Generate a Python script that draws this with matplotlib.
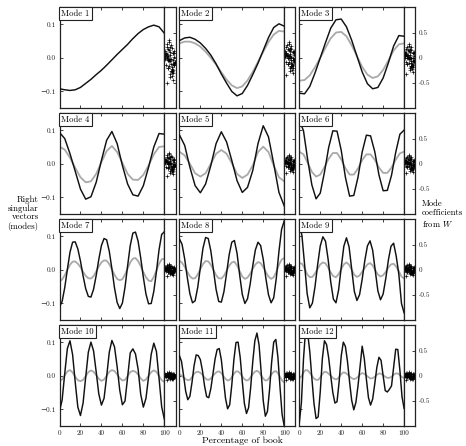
import numpy as np
import matplotlib
matplotlib.use('Agg')
import matplotlib.pyplot as plt

# Fonts close to the LaTeX look of the original
plt.rcParams['font.family'] = ['cmr10', 'DejaVu Serif']
plt.rcParams['mathtext.fontset'] = 'cm'
plt.rcParams['axes.unicode_minus'] = False
plt.rcParams['axes.formatter.use_mathtext'] = True

# ---------------------------------------------------------------- data
# Right singular vectors (black) and their smoothed counterparts (gray),
# sampled along the book (0-100 %). One list per mode.
black_1 = [-0.092, -0.095, -0.097, -0.095, -0.088, -0.076, -0.064, -0.050, -0.037, -0.022, -0.006,
           0.010, 0.025, 0.040, 0.057, 0.072, 0.084, 0.092, 0.097, 0.092, 0.073]
black_2 = [0.051, 0.059, 0.061, 0.055, 0.044, 0.028, 0.008, -0.018, -0.048, -0.075, -0.100,
           -0.113, -0.106, -0.082, -0.050, -0.016, 0.022, 0.060, 0.090, 0.101, 0.094]
gray_2 = [0.043, 0.048, 0.048, 0.043, 0.033, 0.018, 0.000, -0.020, -0.043, -0.065, -0.082,
          -0.090, -0.085, -0.067, -0.042, -0.012, 0.018, 0.047, 0.069, 0.080, 0.078]
black_3 = [-0.105, -0.107, -0.085, -0.045, 0.000, 0.045, 0.088, 0.113, 0.115, 0.092, 0.052,
           0.005, -0.042, -0.077, -0.092, -0.088, -0.060, -0.015, 0.035, 0.066, 0.064]
gray_3 = [-0.068, -0.066, -0.052, -0.028, 0.000, 0.030, 0.058, 0.075, 0.077, 0.064, 0.037,
          0.005, -0.027, -0.050, -0.060, -0.055, -0.036, -0.008, 0.022, 0.040, 0.043]
black_4 = [0.093, 0.075, 0.030, -0.022, -0.075, -0.105, -0.098, -0.055, 0.010, 0.070, 0.096,
           0.060, -0.005, -0.060, -0.092, -0.096, -0.065, -0.010, 0.050, 0.090, 0.088]
gray_4 = [0.051, 0.042, 0.018, -0.012, -0.040, -0.055, -0.052, -0.030, 0.005, 0.038, 0.053,
          0.035, 0.003, -0.030, -0.047, -0.048, -0.033, -0.005, 0.028, 0.050, 0.052]
black_5 = [0.086, 0.055, -0.010, -0.065, -0.086, -0.060, -0.005, 0.060, 0.095, 0.065, 0.010,
           -0.050, -0.085, -0.070, -0.020, 0.060, 0.113, 0.080, 0.000, -0.085, -0.125]
gray_5 = [0.036, 0.025, 0.000, -0.028, -0.038, -0.028, 0.000, 0.030, 0.041, 0.030, 0.002,
          -0.030, -0.042, -0.032, -0.005, 0.035, 0.051, 0.035, -0.005, -0.040, -0.052]
black_6 = [0.130, 0.098, 0.012, -0.063, -0.104, -0.087, -0.025, 0.048, 0.098, 0.097, 0.040, -0.040, -0.096,
           -0.094, -0.040, 0.035, 0.085, 0.083, 0.036, -0.033, -0.080, -0.079, -0.034, 0.034, 0.088, 0.100]
gray_6 = [0.036, 0.028, 0.003, -0.024, -0.038, -0.032, -0.010, 0.015, 0.032, 0.032, 0.013, -0.013, -0.032,
          -0.032, -0.014, 0.011, 0.028, 0.028, 0.012, -0.011, -0.027, -0.027, -0.011, 0.012, 0.031, 0.036]
black_7 = [-0.110, -0.094, -0.053, 0.001, 0.052, 0.082, 0.083, 0.062, 0.026, -0.018, -0.056, -0.079, -0.081, -0.058,
           -0.017, 0.031, 0.072, 0.093, 0.089, 0.055, 0.003, -0.054, -0.097, -0.115, -0.099, -0.052, 0.012, 0.072,
           0.109, 0.112, 0.085, 0.035, -0.022, -0.072, -0.101, -0.100, -0.064, -0.005, 0.060, 0.105, 0.113]
gray_7 = [-0.034, -0.029, -0.016, 0.000, 0.015, 0.024, 0.025, 0.018, 0.008, -0.006, -0.018, -0.025, -0.026, -0.019,
          -0.005, 0.010, 0.022, 0.028, 0.027, 0.017, 0.001, -0.015, -0.027, -0.031, -0.028, -0.014, 0.004, 0.022,
          0.033, 0.035, 0.026, 0.011, -0.007, -0.022, -0.032, -0.034, -0.021, -0.002, 0.018, 0.031, 0.033]
black_8 = [0.092, 0.076, 0.033, -0.022, -0.071, -0.098, -0.092, -0.052, 0.007, 0.064, 0.096, 0.093, 0.056, -0.001,
           -0.058, -0.094, -0.096, -0.065, -0.011, 0.045, 0.082, 0.087, 0.049, -0.015, -0.073, -0.100, -0.086, -0.043,
           0.012, 0.059, 0.082, 0.072, 0.031, -0.025, -0.074, -0.098, -0.083, -0.024, 0.055, 0.120, 0.145]
gray_8 = [0.027, 0.021, 0.009, -0.006, -0.019, -0.026, -0.025, -0.014, 0.002, 0.017, 0.026, 0.025, 0.015, 0.000,
          -0.016, -0.025, -0.026, -0.018, -0.003, 0.012, 0.022, 0.024, 0.013, -0.004, -0.020, -0.027, -0.023, -0.012,
          0.003, 0.016, 0.023, 0.020, 0.008, -0.007, -0.020, -0.027, -0.022, -0.006, 0.015, 0.030, 0.035]
black_9 = [0.137, 0.102, 0.017, -0.071, -0.113, -0.099, -0.050, 0.015, 0.071, 0.098, 0.085, 0.031, -0.036, -0.087,
           -0.098, -0.060, 0.007, 0.070, 0.095, 0.068, 0.002, -0.064, -0.091, -0.074, -0.028, 0.027, 0.071, 0.086,
           0.058, -0.003, -0.063, -0.089, -0.072, -0.026, 0.029, 0.070, 0.079, 0.040, -0.014, -0.100, -0.128]
gray_9 = [0.020, 0.018, 0.005, -0.013, -0.022, -0.021, -0.011, 0.003, 0.016, 0.022, 0.019, 0.007, -0.008, -0.019,
          -0.022, -0.013, 0.002, 0.016, 0.022, 0.015, 0.000, -0.015, -0.021, -0.017, -0.006, 0.006, 0.016, 0.020,
          0.013, -0.001, -0.014, -0.020, -0.016, -0.006, 0.007, 0.016, 0.018, 0.009, -0.004, -0.020, -0.026]
black_10 = [-0.105, -0.072, 0.007, 0.081, 0.104, 0.063, -0.019, -0.093, -0.118, -0.081, -0.004, 0.070, 0.100, 0.074,
            0.012, -0.054, -0.087, -0.067, -0.002, 0.070, 0.105, 0.086, 0.027, -0.043, -0.086, -0.075, -0.004, 0.068,
            0.080, 0.065, 0.020, -0.055, -0.093, -0.067, -0.003, 0.064, 0.097, 0.072, -0.008, -0.092, -0.128]
gray_10 = [-0.015, -0.011, 0.001, 0.013, 0.017, 0.010, -0.003, -0.013, -0.016, -0.012, -0.001, 0.011, 0.016, 0.012,
           0.002, -0.009, -0.015, -0.011, 0.000, 0.012, 0.017, 0.014, 0.004, -0.007, -0.014, -0.012, -0.001, 0.011,
           0.015, 0.012, 0.004, -0.008, -0.015, -0.011, 0.000, 0.011, 0.016, 0.012, -0.001, -0.013, -0.018]
black_11 = [0.060, 0.043, 0.000, -0.046, -0.071, -0.061, -0.020, 0.030, 0.062, 0.060, 0.048, 0.015, -0.030, -0.062,
            -0.065, -0.038, 0.005, 0.049, 0.078, 0.081, 0.048, -0.010, -0.067, -0.098, -0.086, -0.027, 0.048, 0.099,
            0.100, 0.055, -0.016, -0.082, -0.112, -0.095, -0.035, 0.042, 0.104, 0.127, 0.092, 0.012, -0.074, -0.120,
            -0.106, -0.042, 0.040, 0.100, 0.108, 0.055, -0.034, -0.115, -0.148]
gray_11 = [0.004, 0.001, -0.005, -0.010, -0.013, -0.012, -0.004, 0.006, 0.011, 0.012, 0.009, 0.003, -0.005, -0.011,
           -0.012, -0.008, 0.000, 0.007, 0.012, 0.013, 0.008, -0.001, -0.009, -0.014, -0.012, -0.004, 0.006, 0.013,
           0.013, 0.007, -0.002, -0.010, -0.014, -0.012, -0.004, 0.005, 0.012, 0.015, 0.011, 0.001, -0.008, -0.014,
           -0.013, -0.005, 0.005, 0.012, 0.014, 0.008, -0.003, -0.014, -0.020]
black_12 = [-0.140, -0.080, 0.050, 0.136, 0.126, 0.072, -0.007, -0.082, -0.127, -0.122, -0.047, 0.051, 0.104, 0.093,
            0.054, 0.000, -0.050, -0.081, -0.077, -0.018, 0.059, 0.100, 0.087, 0.042, -0.019, -0.073, -0.101, -0.079,
            -0.030, 0.028, 0.088, 0.051, -0.010, -0.065, -0.087, -0.069, -0.024, 0.025, 0.055, 0.046, 0.000, -0.044,
            -0.048, -0.040, -0.030, 0.025, 0.079, 0.078, 0.016, -0.062, -0.097]
gray_12 = [-0.008, -0.002, 0.010, 0.017, 0.016, 0.009, 0.000, -0.008, -0.012, -0.012, -0.005, 0.005, 0.012, 0.011,
           0.006, 0.000, -0.006, -0.010, -0.010, -0.004, 0.005, 0.010, 0.009, 0.004, -0.002, -0.007, -0.010, -0.008,
           -0.003, 0.004, 0.008, 0.006, 0.001, -0.004, -0.008, -0.007, -0.003, 0.003, 0.007, 0.006, 0.002, -0.003,
           -0.006, -0.006, -0.003, 0.003, 0.007, 0.007, 0.002, -0.004, -0.006]

black_curves = [black_1, black_2, black_3, black_4, black_5, black_6,
                black_7, black_8, black_9, black_10, black_11, black_12]
gray_curves = [None, gray_2, gray_3, gray_4, gray_5, gray_6,
               gray_7, gray_8, gray_9, gray_10, gray_11, gray_12]

# Mode coefficients from W (side strips): one shared cloud of book
# coefficients, with the spread and centre read off for each mode
cloud_x = [-0.5, 0.3, 0.8, -0.2, 0.1, -0.7, 0.6, -0.1, 0.4, -0.8,
           0.2, 0.7, -0.4, 0.0, 0.5, -0.6, 0.9, -0.3, 0.3, -0.9,
           0.6, -0.1, 0.2, 0.8, -0.5, 0.4, -0.7, 0.1, -0.2, 0.7,
           -0.4, 0.0, 0.5, -0.8, 0.3, -0.6, 0.9, -0.3, 0.1, -0.1,
           0.6, -0.7, 0.4, 0.2, -0.5, 0.8, -0.2, 0.5, -0.9, 0.0,
           0.3, -0.4, 0.7, -0.6, 0.1, 0.9, -0.8, 0.2, -0.3, 0.6]
cloud_y = [0.3, -1.2, 0.8, -0.1, 1.5, -0.6, 0.0, 2.1, -1.8, 0.5,
           -0.4, 1.1, -0.9, 0.2, -2.3, 0.7, -0.2, 1.3, -1.4, 0.1,
           0.9, -0.7, 1.8, -0.3, 0.4, -1.0, 0.6, -1.6, 2.4, -0.5,
           0.0, 1.0, -1.1, 0.3, -0.8, 1.6, -0.2, 0.5, -2.0, 1.2,
           -0.4, 0.8, -1.3, 0.1, 1.9, -0.6, 0.2, -1.5, 0.7, -0.1,
           1.4, -0.9, 0.4, -2.6, 0.6, -0.3, 1.1, -1.2, 0.0, 0.9]
coef_spread = [0.17, 0.13, 0.12, 0.09, 0.07, 0.07, 0.045, 0.045, 0.045, 0.03, 0.03, 0.03]
coef_centre = [-0.05, 0.0, -0.01, 0.0, 0.0, 0.0, 0.0, 0.0, 0.0, 0.0, 0.0, 0.0]

x_ticks = [0, 20, 40, 60, 80, 100]
y_ticks = [-0.1, 0.0, 0.1]
y_tick_labels = ['\u22120.1', '0.0', '0.1']
coef_ticks = [-0.5, 0, 0.5]
coef_tick_labels = ['-0.5', '0', '0.5']

# ---------------------------------------------------------------- layout (pixels)
W, H = 466, 446
fig = plt.figure(figsize=(W / 100, H / 100), dpi=100)

main_w = 104.8
strip_w = 11.2
row_h = 101
tick_fs = 5.2     # tick labels
mode_fs = 6.3     # "Mode n" boxes
side_fs = 6.4     # side labels
edge = '#222222'

for k in range(12):
    r = k // 3
    c = k % 3
    left = 59.5 + 119.9 * c
    top = 7.3 + 106 * r
    ax = fig.add_axes([left / W, 1 - (top + row_h) / H, main_w / W, row_h / H])
    sx = fig.add_axes([(left + main_w) / W, 1 - (top + row_h) / H, strip_w / W, row_h / H])

    yb = np.array(black_curves[k])
    xb = np.linspace(0, 100, len(yb))
    if gray_curves[k] is not None:
        yg = np.array(gray_curves[k])
        xg = np.linspace(0, 100, len(yg))
        ax.plot(xg, yg, color='#a9a9a9', lw=1.3, zorder=2)
    ax.plot(xb, yb, color='#111111', lw=1.05, zorder=3)

    ax.set_xlim(0, 100)
    ax.set_ylim(-0.15, 0.15)
    ax.set_xticks(x_ticks)
    ax.set_yticks(y_ticks)
    ax.tick_params(direction='in', length=2.5, width=0.6, top=True, right=False,
                   labelsize=tick_fs, pad=2.5, colors=edge)
    if c == 0:
        ax.set_yticklabels(y_tick_labels)
    else:
        ax.set_yticklabels([])
    if r == 3:
        ax.set_xticklabels([str(v) for v in x_ticks])
    else:
        ax.set_xticklabels([])
    for s in ax.spines.values():
        s.set_color(edge)
        s.set_linewidth(0.9)

    ax.text(0.018, 0.982, 'Mode %d' % (k + 1), transform=ax.transAxes, ha='left', va='top',
            fontsize=mode_fs, zorder=5,
            bbox=dict(boxstyle='square,pad=0.25', fc='white', ec=edge, lw=0.8))

    # side strip with the coefficients
    px = np.array(cloud_x)
    py = coef_centre[k] + coef_spread[k] * np.array(cloud_y)
    sx.plot(px, py, '+', color='black', ms=2.6, mew=0.45)
    sx.set_xlim(-1, 1)
    sx.set_ylim(-1, 1)
    sx.set_xticks([])
    sx.set_yticks(coef_ticks)
    sx.yaxis.tick_right()
    sx.tick_params(direction='in', length=2.0, width=0.6, labelsize=tick_fs, pad=2.5, colors=edge)
    if c == 2:
        sx.set_yticklabels(coef_tick_labels)
    else:
        sx.set_yticklabels([])
    for s in sx.spines.values():
        s.set_color(edge)
        s.set_linewidth(0.9)

fig.text(38.5 / W, 1 - 213 / H, 'Right\nsingular\nvectors\n(modes)', ha='right', va='center',
         multialignment='right', fontsize=side_fs, linespacing=1.05)
fig.text(421.5 / W, 1 - 214 / H, 'Mode\ncoefficients\nfrom $W$', ha='left', va='center',
         multialignment='left', fontsize=side_fs - 0.2, linespacing=1.15)
fig.text(242 / W, 1 - 440.5 / H, 'Percentage of book', ha='center', va='center', fontsize=7.0)

fig.savefig('out.png', dpi=100)
